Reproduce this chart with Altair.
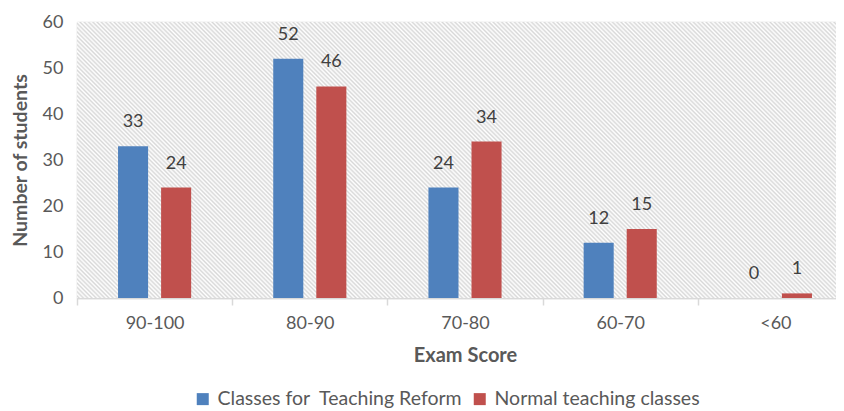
import altair as alt
import pandas as pd

categories = ["90-100", "80-90", "70-80", "60-70", "<60"]
series = ["Classes for\u00a0 Teaching Reform", "Normal teaching classes"]
reform = [33, 52, 24, 12, 0]
normal = [24, 46, 34, 15, 1]
colors = ["#4f81bd", "#c0504d"]

rows = []
for c, a, b in zip(categories, reform, normal):
    rows.append({"score": c, "group": series[0], "n": a})
    rows.append({"score": c, "group": series[1], "n": b})
df = pd.DataFrame(rows)

W, H = 759, 276
FONT = "Lato"

# diagonal hatch via a striped linear gradient (decoration only)
r = H / W
k = (1 + r) / (1 + r * r)
period_px = 3.0
n_stripes = int(((W + H) / 2 ** 0.5) / period_px)
stops = []
for i in range(n_stripes):
    stops.append({"offset": i / n_stripes, "color": "#ffffff"})
    stops.append({"offset": (i + 0.5) / n_stripes, "color": "#d8d8d8"})
stops.append({"offset": 1.0, "color": "#ffffff"})
hatch = alt.LinearGradient(gradient="linear", stops=stops, x1=0, y1=1, x2=k, y2=1 - k * r)

bg = alt.Chart(pd.DataFrame({"a": [0]})).mark_rect(color=hatch).encode(
    x=alt.value(0), x2=alt.value(W), y=alt.value(0), y2=alt.value(H)
)

xenc = alt.X(
    "score:N",
    sort=categories,
    scale=alt.Scale(range=[0, 776], paddingInner=0, paddingOuter=0),
    axis=alt.Axis(
        title="Exam Score",
        tickBand="extent",
        grid=True,
        gridColor="#d9d9d9",
        gridWidth=1.5,
        domainColor="#d9d9d9",
        domainWidth=1.5,
        tickColor="#d9d9d9",
        tickWidth=1.5,
        tickSize=7,
        labelAngle=0,
        labelFont=FONT,
        labelFontSize=18,
        labelColor="#595959",
        labelPadding=9,
        titleFont=FONT,
        titleFontSize=20,
        titleFontWeight="bold",
        titleColor="#595959",
        titlePadding=13,
    ),
)
yenc = alt.Y(
    "n:Q",
    scale=alt.Scale(domain=[0, 60]),
    axis=alt.Axis(
        title="Number of students",
        values=[0, 10, 20, 30, 40, 50, 60],
        grid=True,
        gridColor="#d9d9d9",
        gridWidth=1.5,
        domain=False,
        ticks=False,
        labelFont=FONT,
        labelFontSize=18,
        labelColor="#595959",
        labelPadding=14,
        titleFont=FONT,
        titleFontSize=19.5,
        titleFontWeight="bold",
        titleColor="#595959",
        titlePadding=12,
    ),
)
xoff = alt.XOffset(
    "group:N", sort=series, scale=alt.Scale(paddingInner=0.302, paddingOuter=0.953)
)

bars = alt.Chart(df).mark_bar().encode(
    x=xenc,
    y=yenc,
    xOffset=xoff,
    color=alt.Color(
        "group:N",
        sort=series,
        scale=alt.Scale(domain=series, range=colors),
        legend=alt.Legend(
            title=None,
            orient="none",
            legendX=116,
            legendY=367,
            direction="horizontal",
            symbolType="square",
            symbolSize=144,
            symbolStrokeWidth=0,
            labelFont=FONT,
            labelFontSize=19.5,
            labelColor="#595959",
            labelOffset=5,
            labelLimit=500,
            columnPadding=7,
            padding=0,
        ),
    ),
)

labels = alt.Chart(df).mark_text(
    baseline="bottom", dy=-15, font=FONT, fontSize=18, color="#404040"
).encode(
    x=alt.X("score:N", sort=categories),
    y="n:Q",
    xOffset=alt.XOffset("group:N", sort=series),
    text="n:Q",
)

chart = alt.layer(bg, bars, labels).properties(
    width=W,
    height=H,
    autosize=alt.AutoSizeParams(type="none"),
    padding={"left": 69, "top": 14, "right": 0, "bottom": 113},
    background="white",
).configure_view(stroke=None)

chart.save("out.html", embed_options={"renderer": "svg", "actions": False})
